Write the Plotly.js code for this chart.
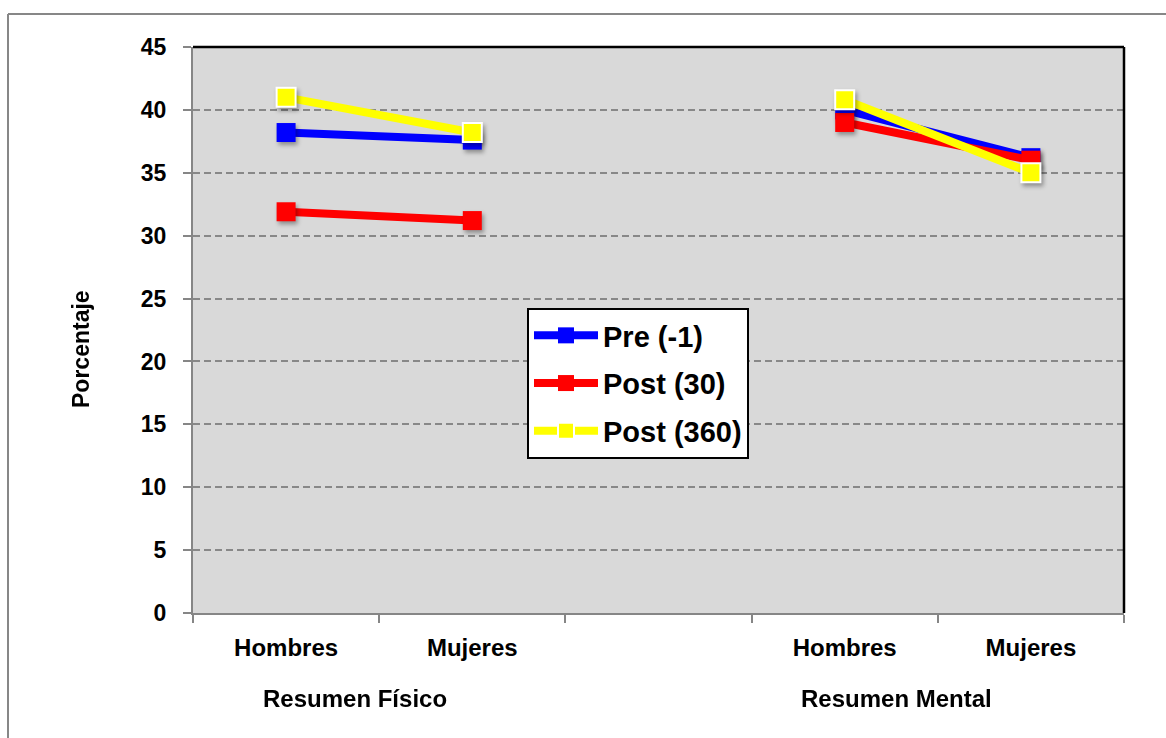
<!DOCTYPE html>
<html>
<head>
<meta charset="utf-8">
<script src="https://cdn.plot.ly/plotly-3.0.1.min.js"></script>
<style>
  html, body { margin: 0; padding: 0; background: #ffffff; }
  #chart { width: 1166px; height: 738px; }
  /* soft drop shadow under the square markers */
  #chart .scatterlayer g.points { filter: drop-shadow(2px 3px 2px rgba(0,0,0,0.35)); }
</style>
</head>
<body>
<div id="chart"></div>
<script>
// Category labels
const sexos = ["Hombres", "Mujeres"];
const resumenes = ["Resumen Físico", "Resumen Mental"];
const yTitle = "Porcentaje";

// Scores per group, ordered: Físico-Hombres, Físico-Mujeres, Mental-Hombres, Mental-Mujeres
const pre = [38.2, 37.6, 40.0, 36.2];
const post30 = [31.9, 31.2, 39.0, 36.0];
const post360 = [41.0, 38.2, 40.8, 35.0];

const seriesNames = ["Pre (-1)", "Post (30)", "Post (360)"];
const seriesColors = ["#0000ff", "#ff0000", "#ffff00"];

// Slot positions on the x axis: two groups of two, with an empty slot between them
const slots = [];
const slotLabels = [];
resumenes.forEach((r, g) => {
  sexos.forEach((s, i) => {
    slots.push(g * 3 + i);
    slotLabels.push(s);
  });
});

// Insert a gap so the two groups are not joined by a line
function withGap(vals) {
  const xs = [], ys = [];
  vals.forEach((v, k) => {
    if (k === 2) { xs.push(2); ys.push(null); }
    xs.push(slots[k]); ys.push(v);
  });
  return { xs, ys };
}

const fontFam = "Liberation Sans, Arial, sans-serif";

const traces = [pre, post30, post360].map((vals, idx) => {
  const d = withGap(vals);
  return {
    type: "scatter",
    mode: "lines+markers",
    name: seriesNames[idx],
    legendgroup: "g" + idx,
    x: d.xs,
    y: d.ys,
    connectgaps: false,
    line: { color: seriesColors[idx], width: 8 },
    marker: {
      symbol: "square",
      size: 19,
      color: seriesColors[idx],
      line: { color: idx === 2 ? "#ffffff" : seriesColors[idx], width: idx === 2 ? 2 : 0 }
    },
    hoverinfo: "name+y"
  };
});

const plotL = 193, plotR = 1124, plotT = 47, plotB = 613;
const W = 1166, H = 738;
const pw = plotR - plotL, ph = plotB - plotT;
const px = v => (v - plotL) / pw;
const py = v => (plotB - v) / ph;

const annotations = resumenes.map((r, g) => ({
  text: r,
  xref: "x",
  yref: "paper",
  x: g === 0 ? 0.37 : 3.28,
  y: py(698),
  xanchor: "center",
  yanchor: "middle",
  showarrow: false,
  font: { size: 24, family: fontFam, weight: "bold", color: "#000000" }
}));
// vertical y-axis title
annotations.push({
  text: yTitle,
  xref: "paper",
  yref: "paper",
  x: px(81),
  y: py(349),
  xanchor: "center",
  yanchor: "middle",
  textangle: -90,
  showarrow: false,
  font: { size: 23, family: fontFam, weight: "bold", color: "#000000" }
});

const layout = {
  width: W,
  height: H,
  margin: { l: plotL, r: W - plotR, t: plotT, b: H - plotB, pad: 0 },
  paper_bgcolor: "#ffffff",
  plot_bgcolor: "#d9d9d9",
  showlegend: true,
  font: { family: fontFam, color: "#000000", weight: "bold" },
  xaxis: {
    range: [-0.5, 4.5],
    tickmode: "array",
    tickvals: slots,
    ticktext: slotLabels,
    ticks: "",
    ticklabelstandoff: 12,
    tickfont: { size: 24, family: fontFam, weight: "bold", color: "#000000" },
    showgrid: false,
    zeroline: false,
    showline: true,
    linecolor: "#868686",
    linewidth: 2,
    minor: {
      tickmode: "linear",
      tick0: -0.5,
      dtick: 1,
      ticks: "outside",
      ticklen: 8,
      tickwidth: 2,
      tickcolor: "#868686",
      showgrid: false
    },
    fixedrange: true
  },
  yaxis: {
    range: [0, 45],
    tickmode: "linear",
    tick0: 0,
    dtick: 5,
    ticks: "outside",
    ticklen: 8,
    tickwidth: 2,
    tickcolor: "#868686",
    ticklabelstandoff: 12,
    tickfont: { size: 23, family: fontFam, weight: "bold", color: "#000000" },
    showgrid: true,
    gridcolor: "#888888",
    gridwidth: 2,
    griddash: "7px,4px",
    zeroline: false,
    showline: true,
    linecolor: "#868686",
    linewidth: 2,
    fixedrange: true
  },
  legend: {
    x: px(527),
    y: py(308),
    xanchor: "left",
    yanchor: "top",
    bgcolor: "#ffffff",
    bordercolor: "#000000",
    borderwidth: 2,
    itemwidth: 64,
    entrywidth: 205,
    entrywidthmode: "pixels",
    traceorder: "grouped",
    tracegroupgap: 7,
    font: { size: 29, family: fontFam, weight: "bold", color: "#000000" }
  },
  annotations: annotations,
  shapes: [
    // black border on top and right of the plot area
    { type: "line", xref: "paper", yref: "paper", x0: 0, x1: 1, y0: 1, y1: 1,
      line: { color: "#000000", width: 2.5 } },
    { type: "line", xref: "paper", yref: "paper", x0: 1, x1: 1, y0: 0, y1: 1,
      line: { color: "#000000", width: 2.5 } },
    // outer chart frame (top and left edges)
    { type: "line", xref: "paper", yref: "paper", x0: px(8), x1: px(W + 10), y0: py(14), y1: py(14),
      line: { color: "#878787", width: 2 } },
    { type: "line", xref: "paper", yref: "paper", x0: px(8), x1: px(8), y0: py(14), y1: py(H + 10),
      line: { color: "#878787", width: 2 } }
  ]
};

Plotly.newPlot("chart", traces, layout, { displayModeBar: false, staticPlot: true });
</script>
</body>
</html>
